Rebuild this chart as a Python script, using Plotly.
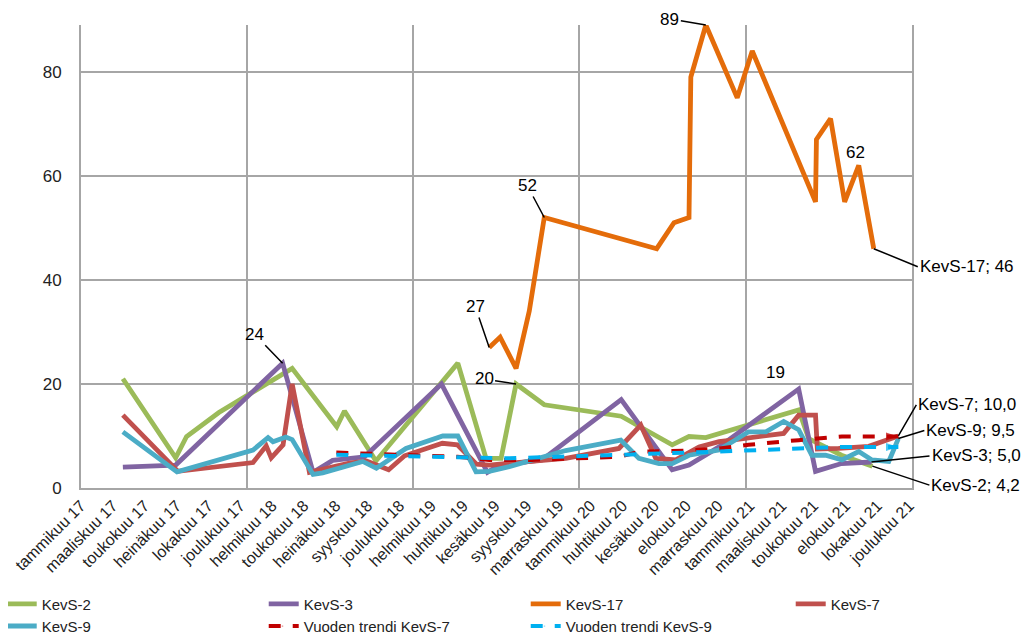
import plotly.graph_objects as go

# ---------------- data ----------------
tick_dates = ["2017-01-01","2017-03-12","2017-05-21","2017-07-30","2017-10-08","2017-12-17",
              "2018-02-25","2018-05-06","2018-07-15","2018-09-23","2018-12-02","2019-02-10",
              "2019-04-21","2019-06-30","2019-09-08","2019-11-17","2020-01-26","2020-04-05",
              "2020-06-14","2020-08-23","2020-11-01","2021-01-10","2021-03-21","2021-05-30",
              "2021-08-08","2021-10-17","2021-12-26"]
tick_labels = ["tammikuu 17","maaliskuu 17","toukokuu 17","heinäkuu 17","lokakuu 17","joulukuu 17",
               "helmikuu 18","toukokuu 18","heinäkuu 18","syyskuu 18","joulukuu 18","helmikuu 19",
               "huhtikuu 19","kesäkuu 19","syyskuu 19","marraskuu 19","tammikuu 20","huhtikuu 20",
               "kesäkuu 20","elokuu 20","marraskuu 20","tammikuu 21","maaliskuu 21","toukokuu 21",
               "elokuu 21","lokakuu 21","joulukuu 21"]

dates_s2 = ["2017-04-03","2017-07-28","2017-08-21","2017-10-31","2018-04-10","2018-07-17","2018-08-03",
            "2018-10-11","2019-04-09","2019-06-10","2019-07-13","2019-08-15","2019-10-16","2020-04-02",
            "2020-07-23","2020-08-29","2020-10-05","2021-04-27","2021-05-19","2021-07-30","2021-10-06"]
vals_s2 = [21, 5.8, 9.9, 14.5, 23, 11.8, 14.8, 5.2, 24, 5.7, 5.7, 20, 16, 13.8, 8.3, 9.9, 9.7, 15, 9.5, 6.3, 4.2]

dates_s3 = ["2017-04-03","2017-07-28","2018-03-20","2018-05-26","2018-07-08","2018-09-16","2019-03-04",
            "2019-06-13","2019-07-09","2019-10-11","2020-04-02","2020-07-23","2020-08-29","2020-11-03",
            "2021-04-27","2021-06-03","2021-07-30","2021-10-04"]
vals_s3 = [4.0, 4.4, 24, 3.0, 5.3, 6.0, 20, 3.0, 4.4, 5.4, 17, 3.5, 4.4, 7.9, 19, 3.2, 4.7, 5.0]

dates_s17 = ["2019-06-17","2019-07-11","2019-08-15","2019-09-13","2019-10-16","2020-06-19","2020-07-27",
             "2020-08-29","2020-09-02","2020-10-05","2020-12-13","2021-01-15","2021-06-03","2021-06-05",
             "2021-07-06","2021-08-06","2021-09-06","2021-10-09"]
vals_s17 = [27, 29, 23, 34, 52, 46, 51, 52, 79, 89, 75, 84, 55, 67, 71, 55, 62, 46]

dates_s7 = ["2017-04-03","2017-08-02","2018-01-14","2018-02-12","2018-02-23","2018-03-21","2018-04-10",
            "2018-05-18","2018-07-16","2018-08-14","2018-09-20","2018-11-08","2018-12-13","2019-03-06",
            "2019-04-08","2019-05-20","2019-06-17","2019-07-31","2019-09-19","2019-12-02","2020-03-28",
            "2020-05-15","2020-06-17","2020-07-31","2020-09-20","2020-11-03","2020-12-01","2021-03-25",
            "2021-04-27","2021-06-03","2021-06-07","2021-07-24","2021-09-28","2021-12-02"]
vals_s7 = [14, 3.2, 4.9, 8.1, 5.8, 8.3, 20, 3.0, 4.2, 4.8, 5.2, 3.5, 6.2, 8.6, 8.3, 4.6, 4.4, 4.7, 5.1,
           5.7, 7.6, 12.1, 5.7, 5.4, 7.9, 8.9, 9.2, 10.5, 14, 14, 7.5, 7.6, 8.0, 10.0]

dates_s9 = ["2017-04-03","2017-07-31","2018-01-14","2018-02-16","2018-02-27","2018-03-27","2018-04-10",
            "2018-05-26","2018-06-16","2018-07-30","2018-09-12","2018-10-12","2018-12-16","2019-03-07",
            "2019-04-09","2019-05-19","2019-06-17","2019-07-31","2019-12-02","2020-04-01","2020-05-11",
            "2020-06-24","2020-07-23","2020-08-29","2020-11-03","2021-01-07","2021-02-14","2021-03-25",
            "2021-04-27","2021-05-26","2021-06-25","2021-07-31","2021-09-06","2021-10-05","2021-11-11",
            "2021-12-02"]
vals_s9 = [10.8, 3.1, 7.3, 9.7, 8.9, 9.8, 9.3, 2.6, 2.9, 4.1, 5.1, 3.8, 7.6, 10, 10, 3.1, 3.2, 4.1, 7.2,
           9.2, 5.7, 4.7, 4.7, 6.3, 7.3, 10.8, 10.8, 12.8, 11.2, 6.3, 6.3, 5.4, 7.0, 5.4, 5.1, 9.5]

dates_t7 = ["2018-07-16","2018-10-01","2019-01-01","2019-04-08","2019-06-17","2019-09-19","2019-12-02",
            "2020-03-28","2020-05-15","2020-08-29","2020-11-03","2021-01-07","2021-04-27","2021-07-31",
            "2021-12-02"]
vals_t7 = [6.8, 6.5, 6.3, 6.0, 5.4, 5.4, 5.7, 6.0, 7.0, 7.2, 7.6, 8.3, 9.2, 9.9, 9.9]

dates_t9 = ["2018-07-16","2018-10-01","2019-01-01","2019-04-08","2019-07-31","2019-12-02","2020-04-01",
            "2020-08-29","2020-11-03","2021-04-27","2021-07-31","2021-12-02"]
vals_t9 = [6.4, 6.2, 6.0, 5.9, 5.7, 6.0, 6.3, 6.8, 7.0, 7.6, 7.9, 7.9]

# (name, dates, values, colour, legend row, legend entry width)
series = [
    ("KevS-2", dates_s2, vals_s2, "#9bbb59", "legend", 217),
    ("KevS-3", dates_s3, vals_s3, "#8064a2", "legend", 217),
    ("KevS-17", dates_s17, vals_s17, "#e46c0a", "legend", 220),
    ("KevS-7", dates_s7, vals_s7, "#c0504d", "legend", 55),
    ("KevS-9", dates_s9, vals_s9, "#4bacc6", "legend2", 217),
]
trends = [
    ("Vuoden trendi KevS-7", dates_t7, vals_t7, "#c00000", "legend2", 217),
    ("Vuoden trendi KevS-9", dates_t9, vals_t9, "#00b0f0", "legend2", 170),
]

FONT = "Liberation Sans, Arial, sans-serif"
LEGFONT = dict(family="Liberation Sans Narrow, Arial Narrow, Liberation Sans, Arial", size=15, color="#222")

fig = go.Figure()
for name, d, v, c, lg, lw in series:
    fig.add_trace(go.Scatter(x=d, y=v, name=name, mode="lines", legend=lg, legendwidth=lw,
                             line=dict(color=c, width=4.8)))
for name, d, v, c, lg, lw in trends:
    sizes = [0] * (len(v) - 1) + [13]
    fig.add_trace(go.Scatter(x=d, y=v, name=name, mode="lines+markers", legend=lg, legendwidth=lw,
                             line=dict(color=c, width=4, dash="dash"),
                             marker=dict(symbol="arrow", angleref="previous", size=sizes,
                                         color=c, line=dict(width=0))))

def fmt(v):
    return f"{v:.1f}".replace(".", ",")

ann = []
def lab(x, y, text, ax, ay, arrow=True, xanchor="center"):
    ann.append(dict(x=x, y=y, text=text, showarrow=arrow, ax=ax, ay=ay, xanchor=xanchor,
                    arrowhead=0, arrowwidth=1.5, arrowcolor="black", standoff=0,
                    font=dict(family=FONT, size=17, color="black")))

# data labels on peaks
lab(dates_s3[2], vals_s3[2], f"{vals_s3[2]:.0f}", -28, -29)
lab(dates_s17[0], vals_s17[0], f"{vals_s17[0]:.0f}", -14, -41)
lab(dates_s2[11], vals_s2[11], f"{vals_s2[11]:.0f}", -32, -5)
lab(dates_s17[4], vals_s17[4], f"{vals_s17[4]:.0f}", -17, -32)
lab(dates_s17[9], vals_s17[9], f"{vals_s17[9]:.0f}", -36, -6)
lab(dates_s17[16], vals_s17[16], f"{vals_s17[16]:.0f}", 0, 0, arrow=False)
ann[-1].update(xshift=-3, yshift=13)
lab(dates_s3[14], vals_s3[14], f"{vals_s3[14]:.0f}", 0, 0, arrow=False)
ann[-1].update(xshift=-23, yshift=17)

# end labels
lab(dates_s17[-1], vals_s17[-1], f"KevS-17; {vals_s17[-1]:.0f}", 44, 18, xanchor="left")
lab(dates_s7[-1], vals_s7[-1], f"KevS-7; {fmt(vals_s7[-1])}", 18, -31, xanchor="left")
lab(dates_s9[-1], vals_s9[-1], f"KevS-9; {fmt(vals_s9[-1])}", 26, -8, xanchor="left")
lab(dates_s3[-1], vals_s3[-1], f"KevS-3; {fmt(vals_s3[-1])}", 58, -6, xanchor="left")
lab(dates_s2[-1], vals_s2[-1], f"KevS-2; {fmt(vals_s2[-1])}", 57, 19, xanchor="left")

legend_common = dict(orientation="h", x=-0.0954, xanchor="left", yanchor="top",
                     entrywidthmode="pixels", itemwidth=30, font=LEGFONT,
                     bgcolor="rgba(0,0,0,0)", tracegroupgap=0)

fig.update_layout(
    width=1025, height=629,
    paper_bgcolor="white", plot_bgcolor="white",
    margin=dict(l=73, r=121, t=17, b=149, autoexpand=False),
    font=dict(family=FONT, color="#222"),
    showlegend=True,
    legend=dict(y=-0.215, **legend_common),
    legend2=dict(y=-0.263, **legend_common),
    annotations=ann,
)
fig.update_xaxes(type="date", range=["2017-01-01", "2022-01-01"], automargin=False,
                 tickmode="array", tickvals=tick_dates, ticktext=tick_labels,
                 tickangle=-45, tickfont=dict(family=FONT, size=16, color="#222"),
                 showgrid=False, ticks="",
                 minor=dict(tick0="2017-01-01", dtick="M12", showgrid=True,
                            gridcolor="#a6a6a6", gridwidth=1.5),
                 showline=True, linecolor="#a6a6a6", linewidth=2, zeroline=False)
fig.update_yaxes(range=[0, 89], dtick=20, tick0=0, automargin=False,
                 showgrid=True, gridcolor="#a6a6a6", gridwidth=1.5,
                 showline=True, mirror=True, linecolor="#a6a6a6", linewidth=2, zeroline=False,
                 ticks="", ticklabelstandoff=14,
                 tickfont=dict(family=FONT, size=17, color="#222"))

fig.write_html("out.html")
